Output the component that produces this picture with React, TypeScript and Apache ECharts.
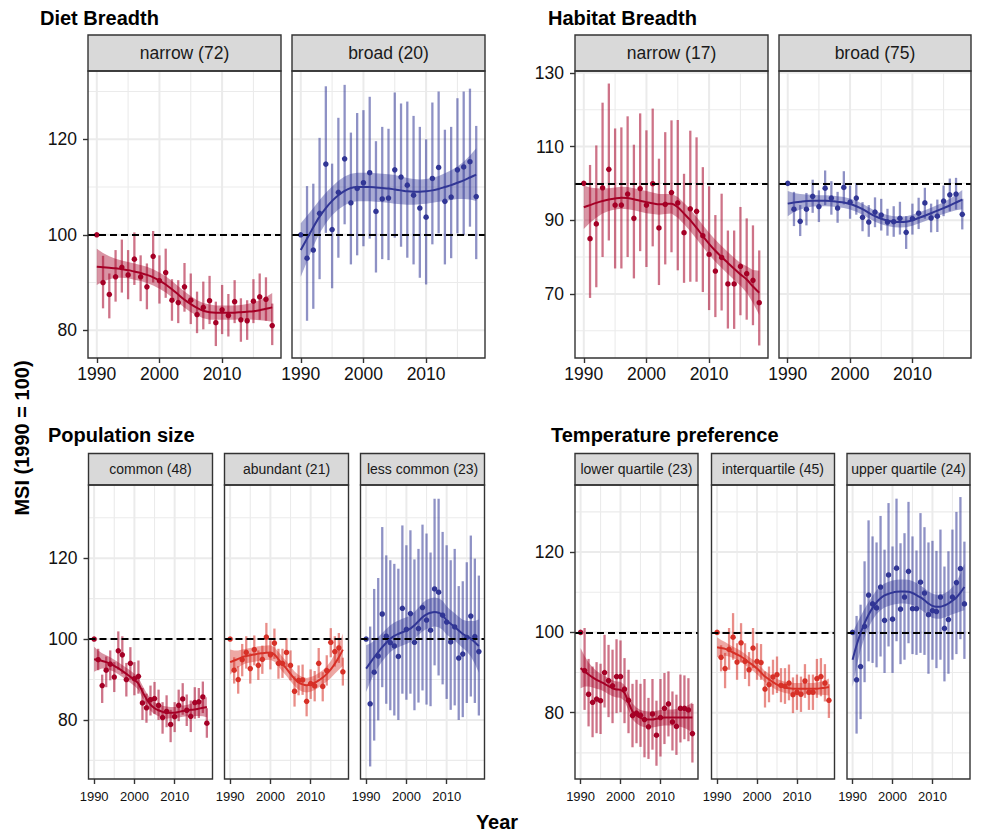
import React, { useEffect, useRef } from "react";
import * as echarts from "echarts";

// ---------- data ----------
const YEARS = [1990, 1991, 1992, 1993, 1994, 1995, 1996, 1997, 1998, 1999, 2000, 2001, 2002, 2003, 2004, 2005, 2006, 2007, 2008, 2009, 2010, 2011, 2012, 2013, 2014, 2015, 2016, 2017, 2018];
const X_TICKS = [1990, 2000, 2010];
const X_MINOR = [1995, 2005, 2015];
const Y_TICKS_DIET = [80, 100, 120];
const Y_MINOR_DIET = [90, 110, 130];
const Y_TICKS_HAB = [70, 90, 110, 130];
const Y_MINOR_HAB = [60, 80, 100, 120];
const Y_TICKS_POP = [80, 100, 120];
const Y_MINOR_POP = [70, 90, 110, 130];
const Y_TICKS_TEMP = [80, 100, 120];
const Y_MINOR_TEMP = [70, 90, 110, 130];
const BASELINE = 100;

const GROUP_TITLES = ["Diet Breadth", "Habitat Breadth", "Population size", "Temperature preference"];
const STRIP_LABELS = ["narrow (72)", "broad (20)", "narrow (17)", "broad (75)", "common (48)", "abundant (21)", "less common (23)", "lower quartile (23)", "interquartile (45)", "upper quartile (24)"];
const Y_TITLE = "MSI (1990 = 100)";
const X_TITLE = "Year";

// Diet breadth: narrow
const dietNarrowMsi = [100, 90.0, 87.5, 91.2, 93.2, 91.6, 94.9, 91.2, 89.1, 95.5, 90.4, 92.1, 86.3, 85.8, 89.1, 86.3, 83.3, 84.8, 86.2, 81.6, 84.3, 83.1, 86.0, 82.2, 82.0, 86.1, 87.0, 86.5, 81.0];
const dietNarrowHi = [100, 95.6, 91.9, 96.8, 99.0, 96.8, 100.5, 95.7, 94.0, 100.8, 95.7, 97.1, 90.7, 90.5, 94.1, 91.9, 88.1, 90.2, 91.4, 86.0, 89.5, 87.6, 90.5, 86.7, 86.3, 90.7, 91.9, 91.1, 85.6];
const dietNarrowLo = [100, 84.6, 82.5, 86.0, 87.9, 86.5, 89.5, 86.1, 84.4, 90.0, 85.6, 86.8, 82.0, 81.5, 83.9, 81.3, 79.4, 80.2, 81.3, 76.7, 79.2, 78.7, 81.5, 77.6, 78.0, 81.5, 82.2, 82.0, 76.9];
const dietNarrowFit = [93.3, 93.2, 93.1, 93.0, 92.8, 92.6, 92.3, 92.0, 91.6, 91.1, 90.4, 89.6, 88.6, 87.5, 86.4, 85.5, 84.7, 84.1, 83.8, 83.7, 83.7, 83.7, 83.7, 83.8, 83.9, 84.0, 84.2, 84.5, 84.8];
const dietNarrowSe = [3.8, 3.0, 2.4, 2.0, 1.8, 1.7, 1.7, 1.7, 1.7, 1.7, 1.7, 1.7, 1.7, 1.7, 1.7, 1.7, 1.6, 1.6, 1.6, 1.5, 1.5, 1.5, 1.5, 1.5, 1.6, 1.8, 2.1, 2.5, 3.0];

// Diet breadth: broad
const dietBroadMsi = [100, 95.1, 96.8, 104.5, 114.8, 101.1, 108.9, 115.9, 106.7, 109.7, 110.9, 113.0, 104.9, 107.5, 107.7, 113.6, 112.1, 110.4, 108.3, 105.6, 103.7, 111.8, 114.1, 107.0, 107.9, 113.6, 114.2, 115.3, 108.0];
const dietBroadHi = [100, 110.2, 110.7, 120.3, 131.1, 114.9, 124.5, 131.4, 121.4, 125.5, 126.1, 128.9, 119.6, 122.6, 122.2, 129.8, 127.5, 127.9, 124.9, 122.6, 120.0, 127.7, 130.0, 122.0, 122.6, 128.6, 130.0, 130.6, 122.8];
const dietBroadLo = [100, 82.0, 84.5, 90.7, 100.4, 88.8, 95.2, 102.2, 93.8, 95.7, 97.6, 99.2, 92.1, 94.9, 94.7, 99.4, 97.5, 95.2, 93.8, 91.0, 89.6, 98.0, 100.3, 93.8, 95.1, 100.3, 99.9, 101.7, 94.9];
const dietBroadFit = [96.8, 99.2, 101.6, 103.8, 105.6, 107.1, 108.3, 109.2, 109.8, 110.0, 110.0, 110.0, 109.9, 109.8, 109.7, 109.5, 109.3, 109.1, 109.0, 109.0, 109.1, 109.3, 109.6, 110.0, 110.4, 110.9, 111.4, 112.0, 112.6];
const dietBroadSe = [5.6, 4.8, 4.0, 3.5, 3.2, 3.0, 3.0, 3.0, 3.0, 3.0, 3.0, 3.0, 3.0, 3.0, 3.0, 3.0, 2.9, 2.8, 2.7, 2.6, 2.6, 2.6, 2.7, 2.9, 3.1, 3.4, 3.9, 4.6, 5.5];

// Habitat breadth: narrow
const habNarrowMsi = [100, 85.0, 89.0, 98.8, 103.8, 94.1, 94.1, 97.1, 90.5, 98.6, 94.1, 99.9, 87.9, 94.3, 97.5, 94.7, 86.6, 93.1, 92.4, 85.8, 80.7, 76.2, 79.9, 72.7, 72.7, 77.5, 75.5, 73.7, 67.6];
const habNarrowHi = [100, 105.0, 110.3, 121.9, 127.1, 114.9, 115.2, 118.2, 110.5, 119.0, 114.4, 120.3, 106.7, 113.9, 117.1, 117.2, 102.6, 114.3, 112.5, 104.4, 99.2, 91.4, 97.2, 87.2, 87.2, 93.6, 90.5, 88.6, 81.8];
const habNarrowLo = [100, 68.9, 71.8, 80.0, 84.5, 76.9, 76.9, 80.0, 74.2, 81.6, 77.3, 82.9, 72.4, 78.0, 81.3, 76.4, 73.0, 73.3, 73.3, 70.5, 65.6, 63.7, 65.5, 60.6, 60.5, 64.2, 63.0, 61.5, 56.0];
const habNarrowFit = [93.5, 94.1, 94.7, 95.2, 95.6, 95.9, 96.1, 96.0, 95.7, 95.3, 94.9, 94.6, 94.3, 94.4, 94.5, 93.5, 91.8, 90.0, 87.9, 85.7, 83.6, 81.7, 80.0, 78.4, 76.8, 75.3, 73.9, 72.0, 70.3];
const habNarrowSe = [5.9, 4.8, 4.0, 3.4, 3.1, 3.0, 3.0, 3.0, 3.0, 3.0, 3.0, 2.9, 2.8, 2.7, 2.7, 2.8, 2.9, 3.0, 3.0, 3.0, 3.0, 3.0, 3.0, 3.0, 3.0, 3.1, 3.6, 4.5, 6.0];

// Habitat breadth: broad
const habBroadMsi = [100, 93.0, 89.7, 93.0, 96.5, 93.7, 98.7, 96.0, 93.3, 98.9, 94.9, 96.0, 90.8, 89.5, 92.2, 91.4, 89.5, 89.6, 90.5, 86.7, 90.4, 91.9, 94.7, 90.6, 91.1, 95.2, 96.9, 97.1, 91.6];
const habBroadHi = [100, 97.7, 94.1, 97.4, 101.0, 98.1, 103.5, 100.6, 97.7, 103.3, 99.4, 100.1, 94.9, 94.1, 96.2, 95.8, 93.1, 93.8, 95.0, 91.1, 94.5, 96.1, 98.8, 94.5, 95.6, 99.4, 101.3, 101.5, 95.8];
const habBroadLo = [100, 88.4, 85.7, 88.6, 92.0, 89.5, 94.1, 91.5, 89.3, 94.3, 90.4, 91.5, 87.0, 85.5, 88.1, 87.2, 85.8, 85.5, 86.1, 82.2, 86.1, 87.6, 90.4, 86.7, 86.8, 91.1, 92.4, 92.9, 87.5];
const habBroadFit = [94.5, 94.8, 95.0, 95.2, 95.3, 95.3, 95.3, 95.2, 95.0, 94.8, 94.4, 93.8, 93.0, 92.0, 91.1, 90.4, 89.9, 89.6, 89.5, 89.6, 90.0, 90.6, 91.2, 91.9, 92.6, 93.3, 94.0, 94.8, 95.6];
const habBroadSe = [3.4, 2.6, 2.1, 1.8, 1.6, 1.5, 1.5, 1.5, 1.5, 1.5, 1.5, 1.5, 1.5, 1.5, 1.5, 1.5, 1.5, 1.5, 1.5, 1.5, 1.5, 1.5, 1.5, 1.5, 1.5, 1.6, 1.8, 2.1, 2.6];

// Population size: common
const popCommonMsi = [100, 94.9, 88.5, 92.3, 93.8, 90.6, 97.1, 96.1, 90.0, 94.0, 90.2, 90.8, 84.2, 83.0, 85.0, 85.3, 83.6, 80.6, 82.1, 78.9, 80.8, 83.6, 85.2, 82.4, 80.9, 84.3, 84.5, 85.7, 79.2];
const popCommonHi = [100, 97.6, 91.2, 95.7, 97.2, 94.3, 101.9, 100.7, 94.1, 98.0, 94.3, 94.7, 87.9, 86.5, 88.5, 89.4, 87.5, 84.4, 86.1, 82.5, 84.4, 87.5, 89.1, 86.3, 84.8, 88.1, 87.9, 89.5, 82.9];
const popCommonLo = [100, 92.3, 84.2, 88.1, 89.8, 86.9, 92.4, 91.4, 85.8, 90.0, 86.1, 86.5, 80.0, 79.3, 81.1, 81.5, 80.0, 76.6, 78.2, 74.5, 77.0, 79.7, 81.3, 78.5, 77.0, 80.3, 80.5, 81.7, 75.6];
const popCommonFit = [95.0, 94.8, 94.6, 94.3, 93.9, 93.4, 92.8, 92.1, 91.4, 90.7, 89.9, 89.0, 87.0, 85.2, 83.8, 82.9, 82.4, 82.0, 81.8, 81.8, 81.8, 82.0, 82.2, 82.3, 82.5, 82.6, 82.8, 83.0, 83.2];
const popCommonSe = [3.1, 2.4, 1.9, 1.7, 1.6, 1.5, 1.5, 1.5, 1.5, 1.5, 1.5, 1.5, 1.5, 1.5, 1.5, 1.5, 1.5, 1.5, 1.5, 1.4, 1.4, 1.4, 1.4, 1.4, 1.5, 1.6, 1.8, 2.1, 2.5];

// Population size: abundant
const popAbundantMsi = [100, 92.3, 90.0, 94.9, 96.7, 92.7, 97.4, 93.5, 95.0, 100.5, 96.1, 99.0, 94.0, 94.0, 96.7, 93.5, 87.1, 89.8, 89.9, 84.6, 89.0, 88.4, 94.0, 88.3, 92.2, 99.2, 96.9, 97.8, 91.9];
const popAbundantHi = [100, 95.5, 93.3, 98.8, 100.7, 96.5, 100.9, 97.2, 98.4, 104.0, 99.7, 102.6, 97.6, 97.6, 100.2, 97.2, 90.8, 93.5, 93.7, 88.4, 92.5, 92.1, 97.8, 91.8, 96.0, 102.7, 100.7, 101.5, 95.4];
const popAbundantLo = [100, 89.0, 86.5, 90.8, 92.7, 89.0, 93.5, 89.9, 91.4, 96.8, 92.5, 95.1, 90.2, 90.4, 93.1, 89.8, 83.3, 86.1, 86.2, 80.9, 85.2, 84.6, 90.4, 84.6, 88.5, 95.5, 93.2, 94.1, 88.5];
const popAbundantFit = [94.3, 94.7, 95.1, 95.5, 95.8, 96.0, 96.2, 96.4, 96.5, 96.6, 96.7, 96.2, 95.0, 93.8, 92.7, 91.4, 90.2, 89.3, 88.8, 88.6, 88.8, 89.2, 89.8, 90.5, 91.4, 92.5, 93.9, 95.5, 97.4];
const popAbundantSe = [3.1, 2.5, 2.1, 1.9, 1.8, 1.8, 1.8, 1.8, 1.8, 1.8, 1.8, 1.8, 1.8, 1.8, 1.8, 1.8, 1.8, 1.8, 1.8, 1.8, 1.8, 1.8, 1.8, 1.8, 1.9, 2.1, 2.5, 3.1, 4.0];

// Population size: less common
const popLessMsi = [100, 84.0, 91.8, 95.8, 106.2, 100.7, 99.1, 98.3, 95.7, 107.6, 102.4, 106.3, 99.2, 102.6, 107.8, 104.7, 102.2, 112.4, 111.6, 105.9, 104.2, 99.3, 103.0, 95.3, 96.3, 100.4, 105.7, 100.6, 96.9];
const popLessHi = [100, 103.1, 112.4, 115.1, 127.7, 120.7, 119.5, 118.6, 117.4, 128.1, 123.2, 126.9, 119.7, 122.3, 128.3, 126.1, 121.4, 134.7, 134.7, 126.5, 123.2, 119.5, 122.3, 113.1, 114.3, 119.0, 125.6, 119.9, 115.7];
const popLessLo = [100, 68.5, 74.9, 79.9, 88.1, 84.0, 82.4, 81.1, 80.0, 86.5, 85.0, 86.5, 82.4, 84.3, 87.3, 83.8, 83.4, 93.5, 91.0, 88.8, 85.2, 82.5, 83.6, 80.0, 80.7, 84.2, 85.8, 84.2, 81.1];
const popLessFit = [92.7, 94.1, 95.5, 96.8, 98.0, 99.1, 100.1, 100.8, 101.3, 101.7, 102.1, 102.6, 103.4, 104.4, 105.4, 106.1, 106.5, 106.7, 106.5, 105.9, 104.6, 103.8, 103.0, 102.1, 101.3, 100.7, 100.1, 99.2, 98.3];
const popLessSe = [5.8, 4.8, 4.1, 3.7, 3.5, 3.4, 3.3, 3.3, 3.3, 3.3, 3.3, 3.3, 3.3, 3.4, 3.5, 3.6, 3.6, 3.6, 3.6, 3.6, 3.5, 3.4, 3.4, 3.4, 3.5, 3.8, 4.4, 5.3, 6.6];

// Temperature preference: lower quartile
const tempLowerMsi = [100, 90.5, 84.6, 82.6, 83.4, 83.0, 90.0, 88.0, 86.7, 89.0, 89.0, 85.9, 83.1, 79.3, 79.9, 79.4, 78.3, 76.5, 79.7, 74.4, 78.8, 81.1, 82.2, 77.7, 76.6, 81.1, 81.1, 80.7, 74.8];
const tempLowerHi = [100, 101.1, 93.4, 91.5, 92.6, 92.2, 99.4, 96.9, 95.7, 98.3, 98.0, 93.6, 90.7, 87.2, 88.2, 87.2, 88.4, 83.7, 88.4, 83.0, 88.4, 89.9, 90.3, 85.3, 84.5, 89.5, 89.3, 88.6, 82.2];
const tempLowerLo = [100, 80.7, 76.6, 73.9, 74.9, 74.7, 81.3, 78.9, 77.4, 79.9, 80.1, 77.4, 74.9, 71.4, 72.4, 71.5, 68.9, 68.5, 70.8, 66.8, 69.1, 72.2, 74.1, 70.6, 69.5, 72.6, 73.4, 72.9, 67.6];
const tempLowerFit = [91.1, 90.3, 89.5, 88.8, 88.2, 87.7, 87.2, 86.6, 86.1, 85.8, 85.7, 84.9, 82.6, 80.3, 79.3, 78.7, 78.4, 78.3, 78.3, 78.5, 78.7, 78.8, 78.8, 78.8, 78.8, 78.8, 78.8, 78.8, 78.8];
const tempLowerSe = [5.0, 3.8, 3.0, 2.5, 2.2, 2.0, 2.0, 2.0, 2.0, 2.0, 2.0, 2.0, 2.0, 2.0, 2.0, 2.0, 2.0, 2.0, 2.0, 2.0, 2.0, 2.0, 2.0, 2.0, 2.1, 2.3, 2.6, 3.1, 3.8];

// Temperature preference: interquartile
const tempInterMsi = [100, 93.8, 91.0, 95.8, 98.8, 92.6, 97.4, 92.8, 90.7, 96.1, 92.8, 92.5, 85.9, 87.0, 88.9, 89.5, 86.8, 86.6, 87.4, 84.5, 85.1, 84.6, 87.9, 85.1, 85.1, 88.5, 89.0, 87.4, 83.1];
const tempInterHi = [100, 96.8, 94.9, 101.1, 104.8, 97.3, 102.3, 97.3, 95.1, 101.1, 97.3, 97.1, 90.3, 91.5, 93.2, 94.0, 91.1, 91.1, 92.0, 88.8, 89.5, 89.0, 92.1, 89.5, 89.5, 93.4, 93.6, 92.1, 87.1];
const tempInterLo = [100, 90.3, 86.1, 90.7, 93.2, 88.2, 92.5, 88.4, 86.6, 91.1, 88.2, 88.2, 81.3, 82.6, 84.5, 84.9, 82.6, 82.2, 83.1, 79.9, 80.7, 80.2, 83.7, 80.7, 80.7, 83.7, 84.1, 82.8, 78.7];
const tempInterFit = [96.3, 96.1, 95.9, 95.5, 95.0, 94.5, 94.0, 93.3, 92.5, 91.8, 91.0, 90.0, 89.0, 88.3, 87.6, 87.0, 86.6, 86.3, 86.1, 86.0, 86.0, 86.0, 86.0, 86.0, 86.0, 86.0, 86.1, 86.2, 86.4];
const tempInterSe = [2.5, 2.0, 1.7, 1.5, 1.4, 1.4, 1.4, 1.4, 1.4, 1.4, 1.4, 1.4, 1.4, 1.4, 1.4, 1.4, 1.4, 1.4, 1.4, 1.4, 1.4, 1.4, 1.4, 1.4, 1.4, 1.5, 1.6, 1.8, 2.1];

// Temperature preference: upper quartile
const tempUpperMsi = [100, 88.2, 91.5, 101.5, 109.3, 107.1, 106.1, 111.3, 103.0, 114.3, 103.3, 116.0, 105.8, 108.8, 115.2, 105.9, 105.9, 112.5, 109.8, 104.4, 105.4, 105.2, 108.8, 101.0, 103.2, 108.8, 112.4, 115.9, 107.1];
const tempUpperHi = [100, 104.1, 106.9, 117.7, 127.9, 123.9, 122.4, 129.0, 120.6, 132.2, 121.4, 133.3, 122.2, 124.7, 132.5, 123.9, 120.4, 129.7, 126.2, 122.4, 122.8, 120.3, 125.6, 116.4, 120.2, 125.6, 130.0, 133.7, 122.6];
const tempUpperLo = [100, 74.8, 78.4, 87.6, 92.8, 92.4, 91.3, 94.0, 89.9, 96.5, 89.9, 97.8, 92.1, 93.2, 97.3, 94.6, 94.4, 94.9, 94.4, 89.7, 93.2, 91.1, 93.2, 87.8, 89.7, 93.2, 94.6, 98.3, 93.4];
const tempUpperFit = [93.2, 96.8, 99.8, 102.3, 104.4, 106.1, 107.5, 108.5, 109.2, 109.6, 109.9, 110.1, 110.2, 110.2, 110.1, 109.8, 109.3, 108.7, 108.0, 107.2, 106.6, 106.4, 106.4, 106.7, 107.2, 107.9, 108.7, 109.9, 111.3];
const tempUpperSe = [6.8, 5.3, 4.2, 3.6, 3.2, 3.0, 3.0, 3.0, 3.0, 3.0, 3.0, 3.0, 3.0, 3.0, 3.0, 3.0, 3.0, 3.0, 3.0, 3.0, 3.0, 3.0, 3.0, 3.0, 3.1, 3.4, 3.9, 4.7, 5.8];

// ---------- styles / layout ----------
const FONT = '"Liberation Sans", Arial, Helvetica, sans-serif';
const RED_DARK = "#A50026";
const RED = "#D73027";
const BLUE = "#313695";
const GRID_COLOR = "#EBEBEB";
const X_MIN = 1988.6;
const X_MAX = 2019.4;

const TOP = { top: 71, height: 287, stripTop: 35, stripH: 36, tickFont: 17.5, stripFont: 17.5, xMargin: 7 };
const BOT = { top: 485, height: 294, stripTop: 453.5, stripH: 31.5, tickFont: 13, stripFont: 14, xMargin: 11 };

const panels = [
  { label: STRIP_LABELS[0], msi: dietNarrowMsi, lo: dietNarrowLo, hi: dietNarrowHi, fit: dietNarrowFit, se: dietNarrowSe, color: RED_DARK, left: 88, width: 193, row: TOP, yMin: 74.2, yMax: 134.3, yTicks: Y_TICKS_DIET, yMinor: Y_MINOR_DIET, showY: true },
  { label: STRIP_LABELS[1], msi: dietBroadMsi, lo: dietBroadLo, hi: dietBroadHi, fit: dietBroadFit, se: dietBroadSe, color: BLUE, left: 292, width: 193, row: TOP, yMin: 74.2, yMax: 134.3, yTicks: Y_TICKS_DIET, yMinor: Y_MINOR_DIET, showY: false },
  { label: STRIP_LABELS[2], msi: habNarrowMsi, lo: habNarrowLo, hi: habNarrowHi, fit: habNarrowFit, se: habNarrowSe, color: RED_DARK, left: 575, width: 193, row: TOP, yMin: 52.6, yMax: 130.5, yTicks: Y_TICKS_HAB, yMinor: Y_MINOR_HAB, showY: true },
  { label: STRIP_LABELS[3], msi: habBroadMsi, lo: habBroadLo, hi: habBroadHi, fit: habBroadFit, se: habBroadSe, color: BLUE, left: 779, width: 192, row: TOP, yMin: 52.6, yMax: 130.5, yTicks: Y_TICKS_HAB, yMinor: Y_MINOR_HAB, showY: false },
  { label: STRIP_LABELS[4], msi: popCommonMsi, lo: popCommonLo, hi: popCommonHi, fit: popCommonFit, se: popCommonSe, color: RED_DARK, left: 88.5, width: 124, row: BOT, yMin: 65.4, yMax: 138.1, yTicks: Y_TICKS_POP, yMinor: Y_MINOR_POP, showY: true },
  { label: STRIP_LABELS[5], msi: popAbundantMsi, lo: popAbundantLo, hi: popAbundantHi, fit: popAbundantFit, se: popAbundantSe, color: RED, left: 224.5, width: 124, row: BOT, yMin: 65.4, yMax: 138.1, yTicks: Y_TICKS_POP, yMinor: Y_MINOR_POP, showY: false },
  { label: STRIP_LABELS[6], msi: popLessMsi, lo: popLessLo, hi: popLessHi, fit: popLessFit, se: popLessSe, color: BLUE, left: 360.5, width: 124, row: BOT, yMin: 65.4, yMax: 138.1, yTicks: Y_TICKS_POP, yMinor: Y_MINOR_POP, showY: false },
  { label: STRIP_LABELS[7], msi: tempLowerMsi, lo: tempLowerLo, hi: tempLowerHi, fit: tempLowerFit, se: tempLowerSe, color: RED_DARK, left: 575, width: 123, row: BOT, yMin: 63.5, yMax: 136.7, yTicks: Y_TICKS_TEMP, yMinor: Y_MINOR_TEMP, showY: true },
  { label: STRIP_LABELS[8], msi: tempInterMsi, lo: tempInterLo, hi: tempInterHi, fit: tempInterFit, se: tempInterSe, color: RED, left: 711.5, width: 123, row: BOT, yMin: 63.5, yMax: 136.7, yTicks: Y_TICKS_TEMP, yMinor: Y_MINOR_TEMP, showY: false },
  { label: STRIP_LABELS[9], msi: tempUpperMsi, lo: tempUpperLo, hi: tempUpperHi, fit: tempUpperFit, se: tempUpperSe, color: BLUE, left: 847, width: 123, row: BOT, yMin: 63.5, yMax: 136.7, yTicks: Y_TICKS_TEMP, yMinor: Y_MINOR_TEMP, showY: false },
];

const titles = [
  { text: GROUP_TITLES[0], x: 40, y: 18 },
  { text: GROUP_TITLES[1], x: 548, y: 18 },
  { text: GROUP_TITLES[2], x: 48, y: 435 },
  { text: GROUP_TITLES[3], x: 551, y: 435 },
];

const plainNumber = (v: number) => String(Math.round(v));

function buildOption(): any {
  const grid: any[] = [];
  const xAxis: any[] = [];
  const yAxis: any[] = [];
  const series: any[] = [];
  const graphic: any[] = [];

  panels.forEach((p, i) => {
    grid.push({ left: p.left, top: p.row.top, width: p.width, height: p.row.height, show: false, containLabel: false, outerBoundsMode: "none" });
    xAxis.push({
      type: "value", gridIndex: i, min: X_MIN, max: X_MAX,
      axisLine: { show: false }, splitLine: { show: false },
      axisTick: { show: true, customValues: X_TICKS, length: 5, lineStyle: { color: "#333", width: 1.4 } },
      axisLabel: { show: true, customValues: X_TICKS, formatter: plainNumber, fontSize: p.row.tickFont, fontFamily: FONT, color: "#111", margin: p.row.xMargin },
    });
    yAxis.push({
      type: "value", gridIndex: i, min: p.yMin, max: p.yMax,
      axisLine: { show: false }, splitLine: { show: false },
      axisTick: { show: p.showY, customValues: p.yTicks, length: 5, lineStyle: { color: "#333", width: 1.4 } },
      axisLabel: { show: p.showY, customValues: p.yTicks, formatter: plainNumber, fontSize: 17.5, fontFamily: FONT, color: "#111", margin: 11 },
    });

    // grid lines
    series.push({
      type: "custom", xAxisIndex: i, yAxisIndex: i, z: 1, silent: true, clip: true,
      data: [[YEARS[0], BASELINE]],
      renderItem: (params: any, api: any) => {
        const cs = params.coordSys;
        const ch: any[] = [];
        const vline = (v: number, w: number) => {
          const x = api.coord([v, p.yMin])[0];
          ch.push({ type: "line", shape: { x1: x, y1: cs.y, x2: x, y2: cs.y + cs.height }, style: { stroke: GRID_COLOR, lineWidth: w } });
        };
        const hline = (v: number, w: number) => {
          const y = api.coord([X_MIN, v])[1];
          ch.push({ type: "line", shape: { x1: cs.x, y1: y, x2: cs.x + cs.width, y2: y }, style: { stroke: GRID_COLOR, lineWidth: w } });
        };
        X_MINOR.forEach((v) => vline(v, 1.1));
        p.yMinor.forEach((v) => hline(v, 1.1));
        X_TICKS.forEach((v) => vline(v, 2));
        p.yTicks.forEach((v) => hline(v, 2));
        return { type: "group", children: ch };
      },
    });

    // ribbon
    series.push({
      type: "custom", xAxisIndex: i, yAxisIndex: i, z: 2, silent: true,
      encode: { x: 0, y: [1, 2] },
      data: YEARS.map((yr, k) => [yr, p.fit[k] - p.se[k], p.fit[k] + p.se[k]]),
      renderItem: (params: any, api: any) => {
        if (params.dataIndex !== 0) return { type: "group", children: [] };
        const upper = YEARS.map((yr, k) => api.coord([yr, p.fit[k] + p.se[k]]));
        const lower = YEARS.map((yr, k) => api.coord([yr, p.fit[k] - p.se[k]])).reverse();
        return { type: "polygon", shape: { points: upper.concat(lower) }, style: { fill: p.color, opacity: 0.42 } };
      },
    });

    // error bars
    series.push({
      type: "custom", xAxisIndex: i, yAxisIndex: i, z: 3, silent: true,
      encode: { x: 0, y: [1, 2] },
      data: YEARS.map((yr, k) => [yr, p.lo[k], p.hi[k]]),
      renderItem: (params: any, api: any) => {
        const x = api.value(0), lo = api.value(1), hi = api.value(2);
        if (hi - lo < 0.01) return { type: "group", children: [] };
        const a = api.coord([x, lo]);
        const b = api.coord([x, hi]);
        return { type: "line", shape: { x1: a[0], y1: a[1], x2: b[0], y2: b[1] }, style: { stroke: p.color, lineWidth: 2.3, opacity: 0.55 } };
      },
    });

    // points
    series.push({
      type: "scatter", xAxisIndex: i, yAxisIndex: i, z: 4, silent: true,
      symbolSize: 5.5, itemStyle: { color: p.color, opacity: 1 },
      data: YEARS.map((yr, k) => [yr, p.msi[k]]),
    });

    // smooth fit + baseline
    series.push({
      type: "line", xAxisIndex: i, yAxisIndex: i, z: 5, silent: true,
      showSymbol: false, symbol: "none", smooth: 0.3,
      lineStyle: { color: p.color, width: 2 },
      data: YEARS.map((yr, k) => [yr, p.fit[k]]),
      markLine: {
        silent: true, symbol: ["none", "none"], label: { show: false },
        lineStyle: { color: "#000", type: [7, 4], width: 1.8 },
        data: [{ yAxis: BASELINE }],
      },
    });

    // strip
    graphic.push({
      type: "rect", z: 50,
      shape: { x: p.left, y: p.row.stripTop, width: p.width, height: p.row.stripH },
      style: { fill: "#D9D9D9", stroke: "#333", lineWidth: 1.4 },
    });
    graphic.push({
      type: "text", z: 51, x: p.left + p.width / 2, y: p.row.stripTop + p.row.stripH / 2,
      style: { text: p.label, font: `${p.row.stripFont}px ${FONT}`, fill: "#1A1A1A", align: "center", verticalAlign: "middle", textAlign: "center", textVerticalAlign: "middle" },
    });
    // border
    graphic.push({
      type: "rect", z: 100,
      shape: { x: p.left, y: p.row.top, width: p.width, height: p.row.height },
      style: { fill: "none", stroke: "#333", lineWidth: 1.4 },
    });
  });

  titles.forEach((t) => {
    graphic.push({
      type: "text", z: 60, x: t.x, y: t.y,
      style: { text: t.text, font: `bold 20px ${FONT}`, fill: "#000", align: "left", verticalAlign: "middle", textAlign: "left", textVerticalAlign: "middle" },
    });
  });
  graphic.push({
    type: "text", z: 60, x: 22, y: 438, rotation: Math.PI / 2,
    style: { text: Y_TITLE, font: `bold 20px ${FONT}`, fill: "#000", align: "center", verticalAlign: "middle", textAlign: "center", textVerticalAlign: "middle" },
  });
  graphic.push({
    type: "text", z: 60, x: 497, y: 822,
    style: { text: X_TITLE, font: `bold 20px ${FONT}`, fill: "#000", align: "center", verticalAlign: "middle", textAlign: "center", textVerticalAlign: "middle" },
  });

  return { animation: false, backgroundColor: "#fff", grid, xAxis, yAxis, series, graphic };
}

export default function App() {
  const ref = useRef<HTMLDivElement>(null);
  useEffect(() => {
    if (!ref.current) return;
    const chart = echarts.init(ref.current, null, { renderer: "svg" });
    chart.setOption(buildOption());
    return () => chart.dispose();
  }, []);
  return <div ref={ref} style={{ position: "fixed", left: 0, top: 0, width: 986, height: 833, background: "#fff" }} />;
}
